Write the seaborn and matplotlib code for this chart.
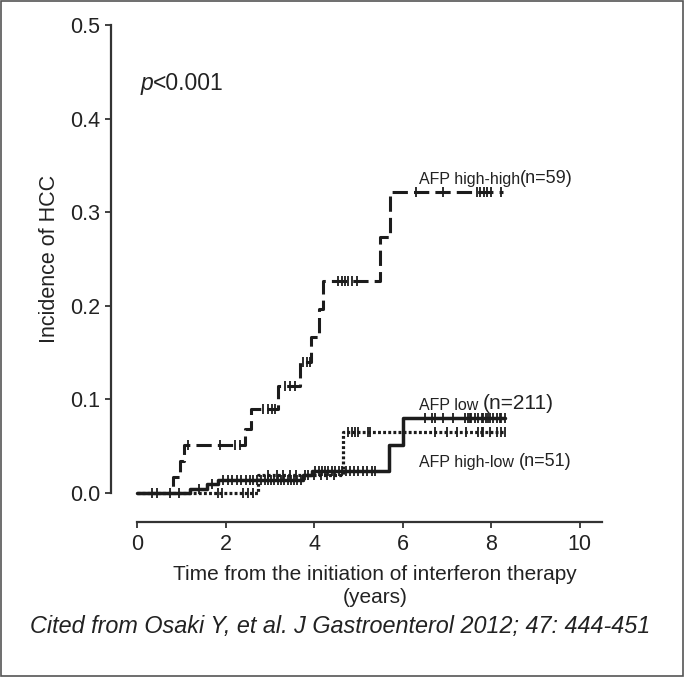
import numpy as np
import pandas as pd
import matplotlib
matplotlib.use("Agg")
import matplotlib.pyplot as plt
from matplotlib.patches import Rectangle
import seaborn as sns

# ---------------- data ----------------
hh_times = [0.82, 0.97, 1.05, 2.44, 2.58, 3.18, 3.68, 3.94, 4.10, 4.20, 5.49, 5.71]
hh_inc = [0.017, 0.034, 0.051, 0.068, 0.090, 0.114, 0.140, 0.167, 0.197, 0.226, 0.274, 0.322]
hh_end = 8.27
hh_censor = [0.33, 0.74, 1.16, 1.87, 2.21, 2.33, 2.85, 2.96, 3.04, 3.12, 3.34, 3.45,
             3.57, 3.75, 3.83, 3.90, 4.54, 4.62, 4.70, 4.77, 4.85, 4.96, 6.31, 6.91,
             7.67, 7.75, 7.83, 7.90, 8.00, 8.23]

low_times = [1.20, 1.57, 1.84, 3.75, 3.95, 5.69, 6.01]
low_inc = [0.0047, 0.0095, 0.0142, 0.0190, 0.0237, 0.051, 0.080]
low_end = 8.31
low_censor = [0.45, 0.95, 1.40, 1.70, 1.95, 2.05, 2.15, 2.25, 2.35, 2.45, 2.55, 2.62,
              2.70, 2.80, 2.88, 2.95, 3.02, 3.10, 3.18, 3.25, 3.32, 3.40, 3.48, 3.55,
              3.62, 3.70, 3.85, 4.02, 4.10, 4.18, 4.25, 4.32, 4.40, 4.48, 4.55, 4.62,
              4.72, 4.80, 4.90, 5.00, 5.10, 5.20, 5.30, 5.37, 6.50, 6.65, 6.73, 6.91,
              7.14, 7.40, 7.48, 7.52, 7.55, 7.63, 7.70, 7.78, 7.82, 7.89, 7.93, 7.97,
              8.04, 8.12, 8.19, 8.23, 8.31]

hl_times = [2.74, 4.66]
hl_inc = [0.0196, 0.0655]
hl_end = 8.31
hl_censor = [1.83, 1.92, 2.39, 2.51, 2.62, 2.95, 3.15, 3.30, 3.45, 3.60, 3.80, 4.00,
             4.15, 4.30, 4.45, 4.77, 4.85, 4.92, 5.00, 5.22, 5.26, 6.73, 6.99, 7.22,
             7.44, 7.70, 7.78, 7.82, 7.97, 8.12, 8.23, 8.31]

group_names = ["AFP high-high", "AFP low ", "AFP high-low "]
group_n = ["(n=59)", "(n=211)", "(n=51)"]

x_ticks = [0, 2, 4, 6, 8, 10]
y_ticks = [0.0, 0.1, 0.2, 0.3, 0.4, 0.5]
y_ticklabels = ["0.0", "0.1", "0.2", "0.3", "0.4", "0.5"]

# ---------------- styling ----------------
sns.set_theme(style="ticks")
plt.rcParams["font.family"] = ["Liberation Sans", "DejaVu Sans"]
INK = "#1c1c1c"
SPINE = "#333333"
TXT = "#222222"

fig = plt.figure(figsize=(6.84, 6.77), dpi=100)
W, H = 684, 677
ax = fig.add_axes([137 / W, 1 - 493 / H, (602 - 137) / W, (493 - 25) / H])


def step_frame(times, inc, end):
    t = [0.0] + list(times) + [end]
    v = [0.0] + list(inc) + [inc[-1]]
    return pd.DataFrame({"time": t, "incidence": v})


def censor_frame(times, inc, censor):
    t = np.asarray(times)
    v = np.asarray([0.0] + list(inc))
    idx = np.searchsorted(t, np.asarray(censor), side="right")
    return pd.DataFrame({"time": censor, "incidence": v[idx]})


groups = [
    (hh_times, hh_inc, hh_end, hh_censor, dict(linestyle=(0, (5, 2)), linewidth=2.2)),
    (low_times, low_inc, low_end, low_censor, dict(linestyle="-", linewidth=2.5)),
    (hl_times, hl_inc, hl_end, hl_censor, dict(linestyle=(0, (0.9, 0.7)), linewidth=2.3)),
]

for times, inc, end, cens, style in groups:
    df = step_frame(times, inc, end)
    sns.lineplot(data=df, x="time", y="incidence", ax=ax, drawstyle="steps-post",
                 estimator=None, sort=False, color=INK, **style)
    ax.lines[-1].set_clip_on(False)
    cf = censor_frame(times, inc, cens)
    sns.scatterplot(data=cf, x="time", y="incidence", ax=ax, marker="|", s=45,
                    linewidth=1.3, color=INK, zorder=3)
    ax.collections[-1].set_clip_on(False)

ax.set_xlim(0, 10.5)
ax.set_ylim(0, 0.5)
ax.set_xticks(x_ticks)
ax.set_yticks(y_ticks)
ax.set_yticklabels(y_ticklabels)
ax.tick_params(axis="both", labelsize=15.5, length=4.5, width=1.3, color=SPINE,
               labelcolor=TXT)
ax.tick_params(axis="x", pad=4)
ax.tick_params(axis="y", pad=3)

sns.despine(ax=ax, offset={"left": 19, "bottom": 21})
for s in ("left", "bottom"):
    ax.spines[s].set_color(SPINE)
    ax.spines[s].set_linewidth(1.6)

ax.set_ylabel("Incidence of HCC", fontsize=15.5, color=TXT)
ax.yaxis.set_label_coords((60 - 137) / 465, 0.5)
ax.set_xlabel("Time from the initiation of interferon therapy\n(years)",
              fontsize=15, color=TXT, linespacing=1.25)
ax.xaxis.set_label_coords((375 - 137) / 465, (493 - 565) / 468)

# p-value text
tp = ax.text(0.07, 0.4305, "p", style="italic", fontsize=16.5, color=TXT,
             va="baseline")
ax.annotate("<0.001", xy=(1, 0), xycoords=tp, fontsize=16.5, color=TXT,
            va="bottom")

# group labels
label_pos = [(6.37, 0.330), (6.37, 0.089), (6.37, 0.028)]
n_sizes = [13, 15, 13]
for name, n, (lx, ly), ns in zip(group_names, group_n, label_pos, n_sizes):
    t = ax.text(lx, ly, name, fontsize=11.5, color=TXT, va="baseline")
    ax.annotate(n, xy=(1, 0), xycoords=t, fontsize=ns, color=TXT,
                va="bottom")

fig.text(30 / W, 1 - 626 / H,
         "Cited from Osaki Y, et al. J Gastroenterol 2012; 47: 444-451",
         style="italic", fontsize=16.8, color=TXT, va="center", ha="left")

fig.add_artist(Rectangle((0.0015, 0.0015), 0.997, 0.997, transform=fig.transFigure,
                         fill=False, edgecolor="#555555", linewidth=1.2))

fig.savefig("out.png", dpi=100)
